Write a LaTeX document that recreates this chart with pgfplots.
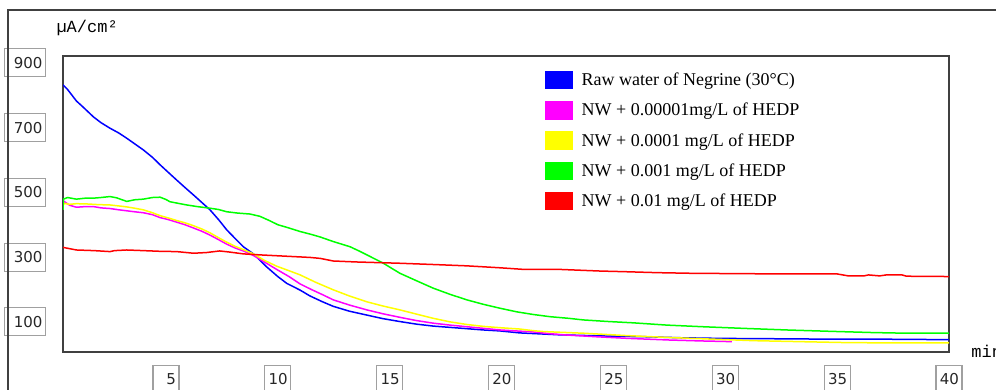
\documentclass[border=0pt]{standalone}
\usepackage{pgfplots}
\pgfplotsset{compat=1.18}
\usepackage{fontspec}
\setmainfont{Liberation Serif}
\newfontfamily\tickfont{DejaVu Sans}
\newfontfamily\monofont{Liberation Mono}
\definecolor{framegray}{RGB}{64,64,64}
\definecolor{boxgray}{RGB}{160,160,160}
\begin{document}
\begin{tikzpicture}[x=1pt,y=1pt]
\path[use as bounding box] (0,0) rectangle (996,390);
\clip (0,0) rectangle (996,390);
\begin{axis}[
  at={(63pt,38pt)}, anchor=south west,
  width=886pt, height=296pt, scale only axis,
  xmin=0.4, xmax=40, ymin=7, ymax=921,
  xtick={5,10,...,40}, ytick={100,300,500,700,900},
  major tick length=0pt,
  axis line style={draw=framegray, line width=1.8pt},
  /pgf/number format/assume math mode=true,
  tick label style={font=\tickfont\fontsize{15}{17}\selectfont, text=black!85},
  yticklabel style={draw=boxgray, line width=1.2pt, anchor=east, xshift=-17pt,
     minimum height=28pt, text width=35pt, align=right, inner xsep=3pt},
  xticklabel style={draw=boxgray, line width=1.2pt, anchor=north, yshift=-13pt,
     minimum height=27pt, text width=20pt, align=right, inner xsep=3pt},
  ylabel={µA/cm²},
  every axis y label/.style={at={(axis description cs:-0.0113,1.0946)}, anchor=west, font=\monofont\fontsize{17}{19}\selectfont},
  xlabel={min},
  every axis x label/.style={at={(axis description cs:1.0214,0.003)}, anchor=west, font=\monofont\fontsize{17}{19}\selectfont},
  no markers,
  every axis plot/.append style={line width=1.5pt},
  legend image code/.code={\fill[#1] (0pt,-8.6pt) rectangle (26pt,8.4pt);},
  legend cell align=left,
  legend style={at={(0.544,0.95)}, anchor=north west, draw=none, fill=none,
     inner sep=0pt, row sep=11.7pt, column sep=9pt,
     font=\fontsize{18}{20}\selectfont, nodes={inner sep=0pt}},
]
\addplot[color={rgb,255:red,0;green,0;blue,255}] coordinates {
(0.4,832) (0.6,818) (0.8,800) (1.0,782) (1.24,767) (1.5,750) (1.76,733) (2.1,715) (2.5,698) (2.9,683) (3.25,667) (3.6,650) (3.99,631) (4.4,608) (4.74,585) (5.1,562) (5.48,538) (5.85,515) (6.23,492) (6.6,469) (6.97,446) (7.35,416) (7.72,384) (8.1,357) (8.46,332) (8.91,310) (9.5,270) (10.0,240) (10.4,219) (11.0,198) (11.44,180) (12.0,162) (12.48,148) (13.2,133) (13.98,121) (14.7,110) (15.46,101) (16.2,93) (16.95,87) (17.7,83) (18.45,79) (19.2,75) (19.94,72) (20.8,66) (21.7,63) (22.6,60) (23.7,58) (24.85,56) (26.5,54) (28,51) (29.77,49) (32,48) (34,47) (36,47) (38.27,46) (40,45)
};
\addlegendentry{Raw water of Negrine (30°C)}
\addplot[color={rgb,255:red,255;green,0;blue,255}] coordinates {
(0.4,468) (0.45,472) (0.7,460) (1.0,454) (1.4,456) (1.76,456) (2.1,452) (2.5,450) (2.9,446) (3.25,443) (3.6,440) (3.99,437) (4.4,431) (4.74,422) (5.1,416) (5.48,408) (5.85,400) (6.23,390) (6.6,380) (6.97,368) (7.35,354) (7.72,340) (8.1,328) (8.5,318) (8.91,305) (9.4,285) (9.95,262) (10.5,240) (11.0,217) (11.5,200) (12.0,184) (12.48,168) (13.2,152) (13.98,137) (14.7,125) (15.46,114) (16.2,104) (16.95,96) (17.7,90) (18.45,85) (19.2,80) (19.94,75) (21.4,69) (22.1,64) (22.77,60) (24.26,54) (25.67,49) (27.5,44) (29,41) (30.3,39)
};
\addlegendentry{NW + 0.00001mg/L of HEDP}
\addplot[color={rgb,255:red,255;green,255;blue,0}] coordinates {
(0.4,458) (0.45,466) (0.7,463) (1.0,465) (1.5,464) (2.0,462) (2.5,461) (2.9,458) (3.25,455) (3.6,451) (3.99,446) (4.4,437) (4.74,428) (5.1,421) (5.48,413) (5.85,406) (6.23,397) (6.6,387) (6.97,375) (7.35,360) (7.72,346) (8.1,333) (8.5,322) (8.91,310) (9.4,290) (9.95,272) (10.5,258) (11.0,245) (11.7,222) (12.48,199) (13.2,180) (13.98,162) (14.7,149) (15.46,137) (16.2,124) (16.95,111) (17.7,100) (18.45,92) (19.2,86) (19.94,82) (20.8,78) (21.4,73) (21.9,70) (22.6,68) (23.66,65) (25.5,58) (27.4,52) (29.3,47) (31.26,42) (33.3,39) (35.4,36) (37.5,35) (40,35)
};
\addlegendentry{NW + 0.0001 mg/L of HEDP}
\addplot[color={rgb,255:red,0;green,255;blue,0}] coordinates {
(0.4,446) (0.42,479) (0.6,484) (1.0,479) (1.4,482) (1.76,482) (2.1,484) (2.5,487) (2.8,483) (3.0,478) (3.25,472) (3.6,477) (3.99,479) (4.4,484) (4.74,485) (5.0,478) (5.18,471) (5.55,466) (5.93,461) (6.4,456) (6.97,451) (7.35,447) (7.72,440) (8.2,436) (8.76,433) (9.2,426) (9.65,412) (10.0,400) (10.4,392) (11.0,379) (11.5,370) (11.9,362) (12.48,348) (13.23,332) (13.6,320) (13.98,307) (14.35,294) (14.72,281) (15.1,265) (15.46,250) (16.2,227) (16.95,204) (17.7,185) (18.45,168) (19.2,154) (19.94,142) (20.68,131) (21.4,123) (22.17,116) (23.0,111) (23.66,106) (24.8,101) (25.9,97) (27.4,90) (29,85) (30.8,80) (32.75,75) (35.1,70) (36.6,67) (38.1,65) (40,65)
};
\addlegendentry{NW + 0.001 mg/L of HEDP}
\addplot[color={rgb,255:red,255;green,0;blue,0}] coordinates {
(0.4,330) (0.7,326) (1.0,322) (1.8,320) (2.5,317) (2.7,320) (3.25,322) (4.0,320) (4.7,318) (5.48,317) (6.23,312) (6.8,314) (7.4,319) (7.8,316) (8.46,310) (9.16,307) (10.3,303) (11.44,299) (11.9,296) (12.48,288) (13.5,285) (15.46,281) (17,277) (18.45,273) (19.94,267) (21.0,262) (22.6,262) (24.4,257) (25.5,255) (26.94,252) (28.5,250) (30.5,249) (32.6,248) (35.0,248) (35.5,242) (36.2,242) (36.4,245) (36.9,242) (37.2,245) (37.9,245) (38.1,241) (40,240)
};
\addlegendentry{NW + 0.01 mg/L of HEDP}
\end{axis}
\draw[framegray, line width=2pt] (7.5,0) -- (7.5,380) -- (996,380);
\end{tikzpicture}
\end{document}
